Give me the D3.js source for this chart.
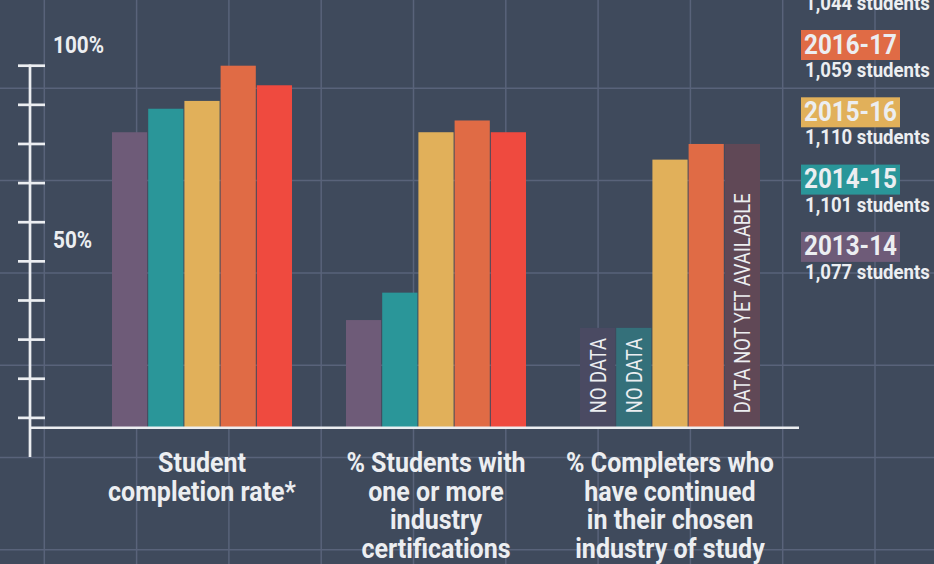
<!DOCTYPE html>
<html><head><meta charset="utf-8">
<script src="https://cdn.jsdelivr.net/npm/d3@7"></script>
<style>html,body{margin:0;padding:0;background:#3f4a5c;overflow:hidden}svg{display:block}</style>
</head><body>
<script>
// ---------- data ----------
const years = ["2013-14", "2014-15", "2015-16", "2016-17", "2017-18"];
const studentCounts = ["1,077 students", "1,101 students", "1,110 students", "1,059 students", "1,044 students"];
const categories = ["completion", "certifications", "continued"];
const categoryLabels = [
  ["Student", "completion rate*"],
  ["% Students with", "one or more", "industry", "certifications"],
  ["% Completers who", "have continued", "in their chosen", "industry of study"]
];
const completionRate = [83, 89, 91, 100, 95];
const certificationRate = [35, 42, 83, 86, 83];
const continuedRate = [null, null, 76, 80, null];
const placeholderValues = [33, 33, null, null, 80];
const placeholderTexts = ["NO DATA", "NO DATA", null, null, "DATA NOT YET AVAILABLE"];
const yTickValues = [10, 20, 30, 40, 50, 60, 70, 80, 90, 100];
const yLabelValues = [50, 100];

// ---------- style ----------
const W = 934, H = 564;
const BG = "#3f4a5c", GRID = "#59637a", INK = "#eceef1";
const seriesColors = ["#6e5b78", "#2a9699", "#e1b05a", "#e06b45", "#ef4a3f"];
const placeholderColors = ["#4a4a62", "#34707a", null, null, "#604856"];
const FONT = "Roboto, 'Noto Sans', sans-serif";

const svg = d3.select("body").append("svg").attr("width", W).attr("height", H);
svg.append("rect").attr("width", W).attr("height", H).attr("fill", BG);

// background grid
const gridStep = 92.3;
const gx = d3.range(44.3, W, gridStep), gy = d3.range(-4, H, gridStep);
const grid = svg.append("g").attr("stroke", GRID).attr("stroke-width", 1.5);
grid.selectAll("line.v").data(gx).join("line").attr("x1", d => d).attr("x2", d => d).attr("y1", 0).attr("y2", H);
grid.selectAll("line.h").data(gy).join("line").attr("y1", d => d).attr("y2", d => d).attr("x1", 0).attr("x2", W);

// condensation helper
function kFor(str, size, weight, target) {
  const t = svg.append("text").attr("font-family", FONT).attr("font-size", size).attr("font-weight", weight).text(str);
  const w = t.node().getComputedTextLength(); t.remove();
  return target / w;
}
const kLabel = kFor("completion rate*", 28, 700, 188);
const kAxis = kFor("100%", 24, 700, 51);
const kYear = kFor("2016-17", 27, 700, 93);
const kCount = kFor("1,059 students", 20, 700, 125);
const kRot = kFor("DATA NOT YET AVAILABLE", 22, 400, 220);

// scales
const baseY = 427.7;
const y = d3.scaleLinear().domain([0, 100]).range([457, 65.7]);
const x0 = d3.scaleBand().domain(categories).range([112, 760]).paddingInner(0.2308).paddingOuter(0);
const x1 = d3.scaleBand().domain(years).range([0, x0.bandwidth()]).paddingInner(0.028);

const seriesByCat = [completionRate, certificationRate, continuedRate];

// bars
categories.forEach((c, ci) => {
  const g = svg.append("g").attr("transform", `translate(${x0(c)},0)`);
  const vals = seriesByCat[ci];
  g.selectAll("rect.bar").data(years.map((yr, i) => ({yr, i, v: vals[i]})).filter(d => d.v != null))
    .join("rect").attr("class", "bar")
    .attr("x", d => x1(d.yr)).attr("width", x1.bandwidth())
    .attr("y", d => y(d.v)).attr("height", d => baseY - y(d.v))
    .attr("fill", d => seriesColors[d.i]);
  if (c === "continued") {
    const ph = years.map((yr, i) => ({yr, i, v: placeholderValues[i], t: placeholderTexts[i]})).filter(d => d.v != null);
    g.selectAll("rect.ph").data(ph).join("rect").attr("class", "ph")
      .attr("x", d => x1(d.yr)).attr("width", x1.bandwidth())
      .attr("y", d => y(d.v)).attr("height", d => baseY - y(d.v))
      .attr("fill", d => placeholderColors[d.i]);
    g.selectAll("text.ph").data(ph).join("text").attr("class", "ph")
      .attr("transform", d => `translate(${x1(d.yr) + x1.bandwidth() / 2 + 8},${baseY - 14.5}) rotate(-90) scale(${kRot},1)`)
      .attr("font-family", FONT).attr("font-size", 22).attr("font-weight", 400)
      .attr("fill", INK).attr("text-anchor", "start").text(d => d.t);
  }
});

// axis
const ax = svg.append("g").attr("stroke", INK).attr("stroke-width", 2.7);
ax.append("line").attr("x1", 30).attr("x2", 30).attr("y1", y(100) - 1.3).attr("y2", y(0));
ax.selectAll("line.t").data(yTickValues).join("line").attr("class", "t")
  .attr("x1", 18).attr("x2", 45).attr("y1", d => y(d)).attr("y2", d => y(d));
ax.append("line").attr("x1", 30).attr("x2", 799).attr("y1", baseY).attr("y2", baseY).attr("stroke-width", 2.5);

svg.selectAll("text.yl").data(yLabelValues).join("text").attr("class", "yl")
  .attr("transform", d => `translate(53,${y(d) - 13}) scale(${kAxis},1)`)
  .attr("font-family", FONT).attr("font-size", 24).attr("font-weight", 700).attr("fill", INK)
  .text(d => d + "%");

// category labels
categories.forEach((c, ci) => {
  const cx = x0(c) + x0.bandwidth() / 2;
  svg.append("g").selectAll("text").data(categoryLabels[ci]).join("text")
    .attr("transform", (d, li) => `translate(${cx},${472 + li * 28.6}) scale(${kLabel},1)`)
    .attr("text-anchor", "middle").attr("font-family", FONT).attr("font-size", 28).attr("font-weight", 700)
    .attr("fill", INK).text(d => d);
});

// legend
const legend = svg.append("g");
years.forEach((yr, i) => {
  const top = 30 + (3 - i) * 67.3;
  legend.append("rect").attr("x", 801).attr("y", top).attr("width", 99).attr("height", 30).attr("fill", seriesColors[i]);
  legend.append("text").attr("transform", `translate(804,${top + 23.5}) scale(${kYear},1)`)
    .attr("font-family", FONT).attr("font-size", 27).attr("font-weight", 700).attr("fill", INK).text(yr);
  legend.append("text").attr("transform", `translate(805,${top + 47}) scale(${kCount},1)`)
    .attr("font-family", FONT).attr("font-size", 20).attr("font-weight", 700).attr("fill", INK).text(studentCounts[i]);
});
</script>
</body></html>
